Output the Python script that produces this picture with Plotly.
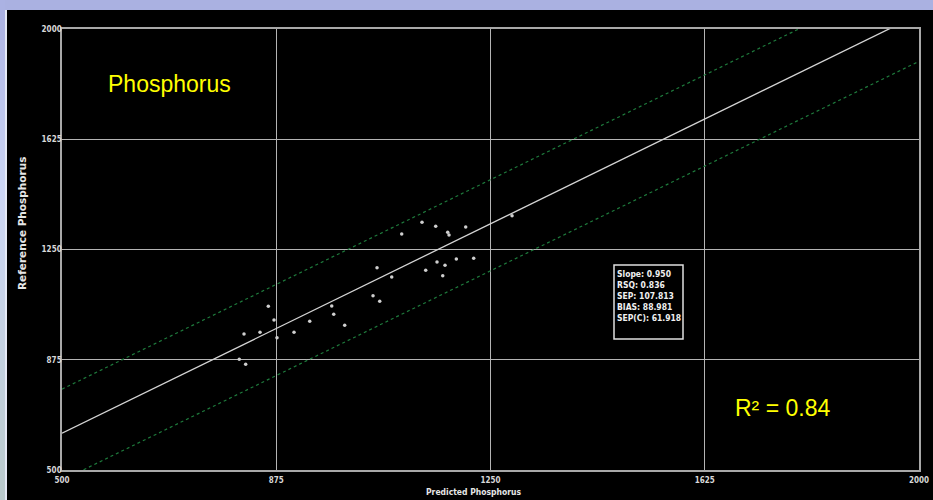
import numpy as np
import plotly.graph_objects as go

# ---- data ----
predicted = [818.6, 821.5, 810.3, 846.6, 861.1, 871.1, 876.3, 906.1, 933.6, 972.1,
             975.6, 994.8, 1044.4, 1056.1, 1051.4, 1077.1, 1094.6, 1130.1, 1154.1, 1175.1,
             1177.4, 1206.6, 1136.6, 1156.4, 1170.4, 1166.4, 1190.2, 1220.6, 1287.7]
reference = [962.6, 859.5, 876.5, 968.4, 1056.8, 1010.2, 950.0, 968.4, 1005.8, 1057.8,
             1029.6, 992.2, 1092.9, 1073.8, 1188.1, 1156.5, 1302.7, 1342.5, 1328.9, 1308.5,
             1299.3, 1326.5, 1179.3, 1207.5, 1196.3, 1160.9, 1217.7, 1220.1, 1365.0]

axis_range = [500, 2000]
tick_values = [500, 875, 1250, 1625, 2000]
tick_labels = ["500", "875", "1250", "1625", "2000"]

slope = 0.95
intercept = 150
limit_offsets = [150, -160]   # upper / lower confidence lines relative to fit

stats_lines = ["Slope: 0.950", "RSQ: 0.836", "SEP: 107.813", "BIAS: 88.981", "SEP(C): 61.918"]
title_text = "Phosphorus"
r2_text = "R² = 0.84"
x_title = "Predicted Phosphorus"
y_title = "Reference Phosphorus"

# ---- layout helpers (pixel -> paper) ----
L, R, T, B = 62, 14, 29, 30
W, H = 933, 500
PW, PH = W - L - R, H - T - B
def px(x):
    return (x - L) / PW
def py(y):
    return (H - B - y) / PH

fig = go.Figure()

xl = np.array(axis_range, dtype=float)
for off in limit_offsets:
    fig.add_trace(go.Scatter(x=xl, y=slope * xl + intercept + off, mode="lines",
                             line=dict(color="#1e7a3c", width=1.2, dash="dot"),
                             hoverinfo="skip", showlegend=False))
fig.add_trace(go.Scatter(x=xl, y=slope * xl + intercept, mode="lines",
                         line=dict(color="#d4d4d4", width=1.3),
                         hoverinfo="skip", showlegend=False))
fig.add_trace(go.Scatter(x=predicted, y=reference, mode="markers",
                         marker=dict(color="#cfcfcf", size=3.5, line=dict(width=0)),
                         showlegend=False))

shapes = []
# left gradient strip
top_c = np.array([170, 177, 226]); mid_c = np.array([206, 216, 246]); bot_c = np.array([186, 202, 204])
nseg = 25
edges = np.linspace(0, 500, nseg + 1)
for i in range(nseg):
    yc = (edges[i] + edges[i + 1]) / 2
    if yc < 200:
        c = top_c + (mid_c - top_c) * (yc / 200)
    else:
        c = mid_c + (bot_c - mid_c) * ((yc - 200) / 300)
    col = "rgb(%d,%d,%d)" % tuple(c.astype(int))
    shapes.append(dict(type="rect", xref="paper", yref="paper", layer="below",
                       x0=px(-5), x1=px(5), y0=py(edges[i + 1] + 1), y1=py(edges[i]),
                       fillcolor=col, line=dict(width=0)))
# top strip
shapes.append(dict(type="rect", xref="paper", yref="paper", layer="below",
                   x0=px(5), x1=px(940), y0=py(10), y1=py(-5),
                   fillcolor="#aab1e1", line=dict(width=0)))
# thin light line at left edge of panel
shapes.append(dict(type="rect", xref="paper", yref="paper", layer="below",
                   x0=px(5), x1=px(7), y0=py(505), y1=py(10),
                   fillcolor="#e6eaf6", line=dict(width=0)))
# black panel
shapes.append(dict(type="rect", xref="paper", yref="paper", layer="below",
                   x0=px(7), x1=px(940), y0=py(505), y1=py(10),
                   fillcolor="#000000", line=dict(width=0)))
# stats box
shapes.append(dict(type="rect", xref="paper", yref="paper", layer="above",
                   x0=px(614), x1=px(683), y0=py(339), y1=py(265),
                   fillcolor="rgba(0,0,0,0)", line=dict(color="#e0e0e0", width=1.5)))

small_font = "DejaVu Sans Condensed, DejaVu Sans, sans-serif"
annotations = [
    dict(text=title_text, xref="paper", yref="paper", x=px(169), y=py(84),
         xanchor="center", yanchor="middle",
         showarrow=False, font=dict(family="Liberation Sans, Arial", size=23, color="#ffff00")),
    dict(text=r2_text, xref="paper", yref="paper", x=px(782), y=py(408),
         xanchor="center", yanchor="middle",
         showarrow=False, font=dict(family="Liberation Sans, Arial", size=23, color="#ffff00")),
    dict(text="<br>".join("<b>%s</b>" % s for s in stats_lines), xref="paper", yref="paper",
         x=px(615), y=py(267), xanchor="left", yanchor="top", align="left", showarrow=False,
         font=dict(family=small_font, size=8.5, color="#f0f0f0")),
    dict(text="<b>%s</b>" % y_title, xref="paper", yref="paper", x=px(22), y=py(224),
         xanchor="center", yanchor="middle",
         textangle=-90, showarrow=False,
         font=dict(family="DejaVu Sans, sans-serif", size=10.5, color="#e6e6e6")),
    dict(text="<b>%s</b>" % x_title, xref="paper", yref="paper", x=px(473), y=py(492),
         xanchor="center", yanchor="middle",
         showarrow=False, font=dict(family=small_font, size=8.5, color="#e6e6e6")),
]

axis_common = dict(range=axis_range, tickvals=tick_values, ticktext=["<b>%s</b>" % t for t in tick_labels],
                   showgrid=True, gridcolor="#b4b4b4", gridwidth=1, zeroline=False,
                   showline=True, linecolor="#a8a8a8", linewidth=1.5, mirror=True,
                   ticks="", tickfont=dict(family=small_font, size=8, color="#d8d8d8"))

fig.update_layout(
    width=W, height=H, autosize=False,
    margin=dict(l=L, r=R, t=T, b=B, pad=0, autoexpand=False),
    paper_bgcolor="#aab1e1", plot_bgcolor="#000000",
    xaxis=dict(**axis_common, ticklabelstandoff=2),
    yaxis=dict(**axis_common, ticklabelstandoff=-3),
    shapes=shapes, annotations=annotations,
    showlegend=False,
)

fig.write_html("out.html", config={"displayModeBar": False, "responsive": False},
               post_script="document.body.style.margin='0px';")
